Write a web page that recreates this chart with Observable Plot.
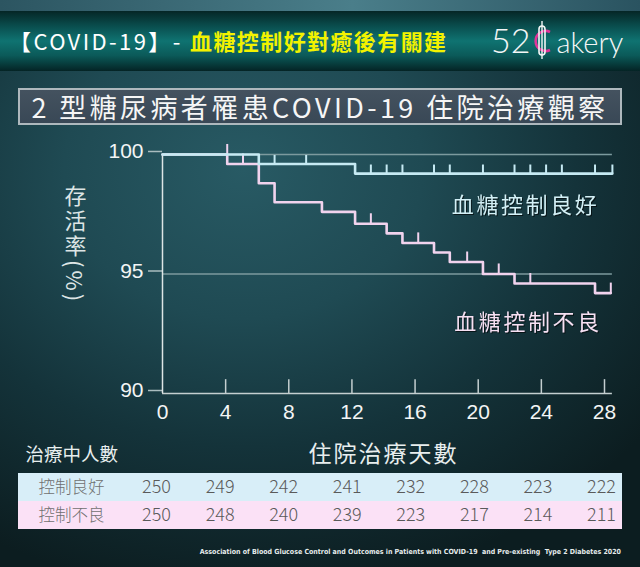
<!DOCTYPE html>
<html><head><meta charset="utf-8">
<script src="https://cdn.jsdelivr.net/npm/d3@7"></script>
<script src="https://cdn.jsdelivr.net/npm/@observablehq/plot@0.6"></script>
<style>
html,body{margin:0;padding:0;background:#0f2427;}
#root{position:relative;width:640px;height:567px;overflow:hidden;
 background: radial-gradient(ellipse 80% 75% at 38% 30%, #285a64 0%, #1f4a53 35%, #14333a 65%, #0c1d20 100%);
 font-family:"Noto Sans CJK TC","Liberation Sans",sans-serif;}
#topstrip{position:absolute;left:0;top:0;width:640px;height:11px;background:linear-gradient(90deg,#2c5561 0%,#4a7e8a 55%,#2a5360 100%);}
#header{position:absolute;left:0;top:11px;width:640px;height:60px;
 background:linear-gradient(180deg,#052626 0%,#0a5252 28%,#0f7371 50%,#0b5a59 74%,#042425 100%);}
#hdrtext{position:absolute;left:9px;top:13px;font-size:22px;line-height:32px;white-space:nowrap;}
#logo{position:absolute;left:491px;top:8px;height:42px;white-space:nowrap;color:#f4f6f6;font-family:Lato,"Open Sans",sans-serif;font-weight:300;font-size:34px;line-height:42px;}
#titlebox{position:absolute;left:18px;top:88px;width:600px;height:33px;border:2px solid #aeb8bd;
 background:linear-gradient(180deg,#44525f,#394856);color:#f6f6f6;font-size:27px;line-height:33px;text-align:center;letter-spacing:3.4px;white-space:nowrap;}
#main,#table{position:absolute;left:0;}
#main{top:0;}
#table{top:471px;}
#footer{position:absolute;right:19px;top:548px;font-family:"DejaVu Sans Condensed","DejaVu Sans",sans-serif;font-weight:bold;font-size:7px;color:#e6ecec;white-space:pre;}
</style>
</head>
<body>
<div id="root">
  <div id="topstrip"></div>
  <div id="header">
    <div id="hdrtext"><span style="color:#ffffff;letter-spacing:2.4px">【COVID-19】- </span><span style="color:#f2f200;font-weight:bold;letter-spacing:1.4px">血糖控制好對癒後有關建</span></div>
    <div id="logo"><span>52</span><svg width="26" height="42" viewBox="0 0 26 42" style="vertical-align:top"><path d="M20 13 A10 10 0 1 0 20 31" fill="none" stroke="#e0359a" stroke-width="2.6"/><rect x="9" y="7" width="6" height="29" rx="3" fill="none" stroke="#f4f6f6" stroke-width="1.6"/><line x1="12" y1="2" x2="12" y2="40" stroke="#f4f6f6" stroke-width="1.4"/></svg><span style="font-size:29px">akery</span></div>
  </div>
  <div id="titlebox">2 型糖尿病者罹患COVID-19 住院治療觀察</div>
  <div id="main"></div>
  <div id="table"></div>
  <div id="footer">Association of Blood Glucose Control and Outcomes in Patients with COVID-19  and Pre-existing  Type 2 Diabetes 2020</div>
</div>
<script>
// ---- data ----
const xTicks = [0, 4, 8, 12, 16, 20, 24, 28];
const yTicks = [90, 95, 100];
const xLabel = "住院治療天數";
const yLabel = "存活率(%)";
const seriesNames = ["血糖控制良好", "血糖控制不良"];

const goodDays = [0, 6.1, 12.2, 28.5];
const goodSurv = [100, 99.6, 99.2, 99.2];
const goodCensor = [7.1, 9.1, 13.2, 14.2, 15.2, 17.2, 18.2, 20.3, 22.3, 23.3, 24.3, 25.3, 27.4, 28.5];

const badDays = [0, 4.1, 6.1, 7.1, 10.1, 12.2, 14.2, 15.2, 17.2, 18.2, 20.3, 22.3, 27.4, 28.4];
const badSurv = [100, 99.6, 98.8, 98.0, 97.6, 97.1, 96.7, 96.3, 95.9, 95.5, 95.0, 94.6, 94.2, 94.2];
const badCensor = [4.1, 5.1, 13.2, 16.2, 19.3, 21.3, 23.3, 28.4];

const tableTitle = "治療中人數";
const rowNames = ["控制良好", "控制不良"];
const riskDays = [0, 4, 8, 12, 16, 20, 24, 28];
const riskGood = [250, 249, 242, 241, 232, 228, 223, 222];
const riskBad = [250, 248, 240, 239, 223, 217, 214, 211];

// ---- build tables ----
const goodColor = "#c6eaf3", badColor = "#f1d3ee";
const curve = (days, surv) => days.map((d, i) => ({day: d, s: surv[i]}));
const good = curve(goodDays, goodSurv);
const bad = curve(badDays, badSurv);
function before(days, surv, t) { let v = surv[0]; days.forEach((d, i) => { if (d < t) v = surv[i]; }); return v; }
const censor = (c, days, surv) => c.map(t => ({day: t, s: before(days, surv, t)}));
const goodTicks = censor(goodCensor, goodDays, goodSurv);
const badTicks = censor(badCensor, badDays, badSurv);
const ends = [
  {name: seriesNames[0], day: goodDays[goodDays.length - 1], s: goodSurv[goodSurv.length - 1], c: "#d3f0f6", dx: -13, dy: 32},
  {name: seriesNames[1], day: badDays[badDays.length - 1], s: badSurv[badSurv.length - 1], c: "#f6e0f3", dx: -9, dy: 30}
];
const lastDay = d3.max([...goodDays, ...badDays]);

const main = Plot.plot({
  width: 640, height: 567,
  marginLeft: 162, marginRight: 36, marginTop: 154, marginBottom: 174,
  x: {domain: [0, 28]},
  y: {domain: [90, 100]},
  style: {background: "transparent", fontFamily: "'Liberation Sans', Arial, sans-serif", color: "#f3f5f5", overflow: "visible"},
  marks: [
    Plot.ruleY(yTicks, {y: d => d, x1: 0, x2: lastDay, stroke: d => d === 90 ? "#c4cfd0" : "#7c9a9e", strokeWidth: 1.5}),
    Plot.axisY(yTicks, {tickSize: 14, tickPadding: 5, fontSize: 21, stroke: "#a9bcbf", strokeWidth: 1.5, dy: -3, label: null}),
    Plot.axisX(xTicks, {tickSize: 0, tickPadding: 11, fontSize: 21, label: null}),
    Plot.ruleX(xTicks.slice(1), {x: d => d, y1: 90, y2: 90.58, stroke: "#c4cfd0", strokeWidth: 1.5}),
    Plot.ruleX([0], {y1: 90, y2: 100, stroke: "#dde5e5", strokeWidth: 1.5}),
    Plot.line(bad, {x: "day", y: "s", curve: "step-after", stroke: badColor, strokeWidth: 2.6}),
    Plot.ruleX(badTicks, {x: "day", y1: "s", y2: d => d.s + 0.42, stroke: badColor, strokeWidth: 2}),
    Plot.line(good, {x: "day", y: "s", curve: "step-after", stroke: goodColor, strokeWidth: 2.6}),
    Plot.ruleX(goodTicks, {x: "day", y1: "s", y2: d => d.s + 0.36, stroke: goodColor, strokeWidth: 2}),
    Plot.text(ends, {x: "day", y: "s", text: "name", fill: "c", textAnchor: "end", fontSize: 22,
      fontFamily: "'Noto Sans CJK TC', sans-serif"}),
    Plot.text([xLabel], {frameAnchor: "bottom", dy: 68, text: d => d, fontSize: 23, fill: "#e8eeee", fontFamily: "'Noto Sans CJK TC', sans-serif"}),
    Plot.text([tableTitle], {frameAnchor: "bottom-left", dx: -137, dy: 67, textAnchor: "start", text: d => d, fontSize: 18.5, fill: "#e8eeee", fontFamily: "'Noto Sans CJK TC', sans-serif"}),
    Plot.text([yLabel], {frameAnchor: "left", dx: -87, dy: -96, text: d => d, fontSize: 22, fill: "#dde5e5", fontFamily: "'Noto Sans CJK TC', sans-serif"})
  ]
});
document.getElementById("main").appendChild(main);

// post-process: offsets and letter spacing for series labels, vertical y label
const svgSel = d3.select(main);
svgSel.selectAll("text").each(function() {
  const t = this.textContent;
  const e = ends.find(o => o.name === t);
  if (e) {
    const tr = this.getAttribute("transform") || "";
    this.setAttribute("transform", tr + ` translate(${e.dx},${e.dy})`);
    this.style.letterSpacing = "2.6px";
    this.style.filter = "drop-shadow(1px 1px 0.5px rgba(0,0,0,0.6))";
  }
  if (t === yLabel) {
    this.setAttribute("writing-mode", "vertical-rl");
    this.style.writingMode = "vertical-rl";
    this.style.letterSpacing = "3px";
    this.removeAttribute("dy");
  }
  if (t === xLabel) this.style.letterSpacing = "2px";
});

const tableRows = [
  ...riskDays.map((d, i) => ({day: d, row: rowNames[0], n: riskGood[i]})),
  ...riskDays.map((d, i) => ({day: d, row: rowNames[1], n: riskBad[i]}))
];
const table = Plot.plot({
  width: 640, height: 60,
  marginLeft: 18, marginRight: 18, marginTop: 1, marginBottom: 2,
  x: {domain: [0, 28], range: [156, 601], axis: null},
  y: {domain: rowNames, padding: 0, axis: null},
  style: {background: "transparent", fontFamily: "'Noto Sans CJK TC', sans-serif"},
  marks: [
    Plot.cell([rowNames[0]], {y: d => d, fill: "#d8eef8"}),
    Plot.cell([rowNames[1]], {y: d => d, fill: "#fbe1f6"}),
    Plot.text(rowNames, {y: d => d, text: d => d, frameAnchor: "left", dx: 20, textAnchor: "start", fontSize: 16.5, fill: "#707070", fontWeight: 300}),
    Plot.text(tableRows, {x: "day", y: "row", text: "n", fontSize: 18, fill: "#5a5a5a", fontWeight: 300})
  ]
});
document.getElementById("table").appendChild(table);
</script>
</body></html>
